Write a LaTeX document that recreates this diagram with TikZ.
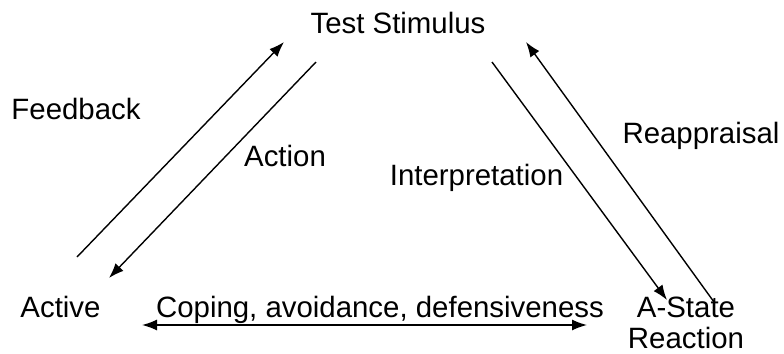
\documentclass[tikz,border=0pt]{standalone}
\usepackage{fontspec}
\setmainfont{Liberation Sans}
\usetikzlibrary{arrows.meta}

\begin{document}
\begin{tikzpicture}[x=0.5pt, y=-0.5pt, font=\fontsize{14.7}{15.5}\selectfont,
    lbl/.style={inner sep=0pt, anchor=base},
    tip/.style={Latex[length=7.5pt,width=5.5pt]},
    flow/.style={line width=0.7pt, -{Latex[length=7.5pt,width=5.5pt]}}]
  \useasboundingbox (0,0) rectangle (784,354);

  % Corners of the triangle
  \node[lbl] (stim) at (398,33) {Test Stimulus};
  \node[lbl] (active) at (60.5,317) {Active};
  \node[lbl, align=center] (astate) at (686,348) {A-State\\Reaction};

  % Arrow labels
  \node[lbl] (feedback) at (76,119) {Feedback};
  \node[lbl] (action) at (285,166) {Action};
  \node[lbl] (interp) at (476.5,185) {Interpretation};
  \node[lbl] (reappr) at (701,143) {Reappraisal};
  \node[lbl] (coping) at (380,317) {Coping, avoidance, defensiveness};

  % Arrow ends
  \coordinate (fb-s) at (77,257);
  \coordinate (fb-e) at (284,42);
  \coordinate (ac-s) at (316,62);
  \coordinate (ac-e) at (109,278);
  \coordinate (in-s) at (492,62);
  \coordinate (in-e) at (667,300);
  \coordinate (re-s) at (714,302);
  \coordinate (re-e) at (526,42);
  \coordinate (co-l) at (142,325);
  \coordinate (co-r) at (587,325);

  % Left side
  \draw[flow] (fb-s) -- (fb-e);
  \draw[flow] (ac-s) -- (ac-e);

  % Right side
  \draw[flow] (in-s) -- (in-e);
  \draw[flow] (re-s) -- (re-e);

  % Bottom
  \draw[flow, {Latex[length=7.5pt,width=5.5pt]}-{Latex[length=7.5pt,width=5.5pt]}] (co-l) -- (co-r);
\end{tikzpicture}
\end{document}
